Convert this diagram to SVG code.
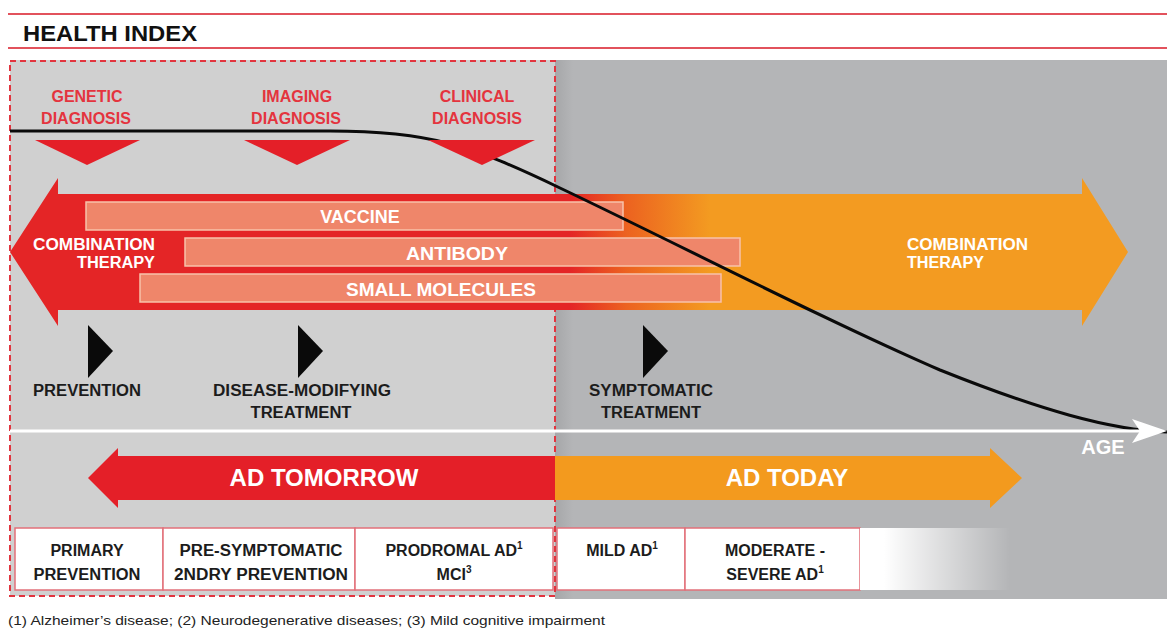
<svg xmlns="http://www.w3.org/2000/svg" width="1167" height="629" viewBox="0 0 1167 629">
<defs>
<style>
.t{font-family:"Liberation Sans",Arial,sans-serif;font-weight:bold;text-anchor:middle}
.red{fill:#e4343e;font-size:16px}
.wb{fill:#ffffff;font-size:18px}
.ct{fill:#ffffff;font-size:16px}
.dk{fill:#1c1c1c;font-size:16px}
.big{fill:#ffffff;font-size:24px}
.bx{fill:#ffffff;stroke:#e2707a;stroke-width:1.5}
.bar{fill:#ef866a;stroke:#f8c2aa;stroke-width:1.5}
.sup{font-size:10px}
</style>
<linearGradient id="gArrow" gradientUnits="userSpaceOnUse" x1="570" y1="0" x2="710" y2="0">
<stop offset="0" stop-color="#e42526"/>
<stop offset="0.4" stop-color="#ec6220"/>
<stop offset="1" stop-color="#f39b21"/>
</linearGradient>
<linearGradient id="gEdge" x1="0" y1="0" x2="1" y2="0">
<stop offset="0" stop-color="#a6a7a9"/>
<stop offset="1" stop-color="#b4b5b7"/>
</linearGradient>
<linearGradient id="gFade" gradientUnits="userSpaceOnUse" x1="862" y1="0" x2="1010" y2="0">
<stop offset="0" stop-color="#ffffff" stop-opacity="1"/>
<stop offset="0.15" stop-color="#ffffff" stop-opacity="1"/>
<stop offset="1" stop-color="#ffffff" stop-opacity="0"/>
</linearGradient>
</defs>

<rect x="0" y="0" width="1167" height="629" fill="#ffffff"/>

<g id="header">
<line x1="8" y1="14" x2="1167" y2="14" stroke="#e2525c" stroke-width="2"/>
<line x1="8" y1="48" x2="1167" y2="48" stroke="#e2525c" stroke-width="2"/>
<text x="23" y="41" font-family="Liberation Sans,Arial,sans-serif" font-weight="bold" font-size="22" fill="#111111" textLength="174" lengthAdjust="spacingAndGlyphs">HEALTH INDEX</text>
</g>

<g id="background">
<rect x="10" y="60" width="545" height="536" fill="#d0d0d0"/>
<rect x="555" y="60" width="612" height="539" fill="#b4b5b7"/>
<rect x="555" y="60" width="18" height="539" fill="url(#gEdge)"/>
</g>

<rect id="tomorrow-frame" x="10" y="61" width="545" height="535" fill="none" stroke="#e2343e" stroke-width="2" stroke-dasharray="6 4"/>

<g id="therapy-arrow">
<polygon points="10,252 58,178 58,194 1082,194 1082,178 1128,252 1082,326 1082,310 58,310 58,326" fill="url(#gArrow)"/>
<text class="t ct" x="155" y="250" style="text-anchor:end" textLength="122" lengthAdjust="spacingAndGlyphs">COMBINATION</text>
<text class="t ct" x="155" y="268" style="text-anchor:end" textLength="78" lengthAdjust="spacingAndGlyphs">THERAPY</text>
<text class="t ct" x="907" y="250" style="text-anchor:start" textLength="121" lengthAdjust="spacingAndGlyphs">COMBINATION</text>
<text class="t ct" x="907" y="268" style="text-anchor:start" textLength="77" lengthAdjust="spacingAndGlyphs">THERAPY</text>
</g>

<g id="vaccine">
<rect class="bar" x="86" y="202" width="537" height="28"/>
<text class="t wb" x="360" y="223">VACCINE</text>
</g>
<g id="antibody">
<rect class="bar" x="185" y="238" width="555" height="28"/>
<text class="t wb" x="457" y="260" textLength="102" lengthAdjust="spacingAndGlyphs">ANTIBODY</text>
</g>
<g id="small-molecules">
<rect class="bar" x="140" y="274" width="581" height="28"/>
<text class="t wb" x="441" y="296" textLength="190" lengthAdjust="spacingAndGlyphs">SMALL MOLECULES</text>
</g>

<g id="connectors">
<path d="M10,131 L330,131 C430,131 470,145 560,188 C680,245 820,318 940,370 C1040,410 1110,430 1167,432" fill="none" stroke="#0a0a0a" stroke-width="3"/>
<line x1="10" y1="431" x2="1140" y2="431" stroke="#ffffff" stroke-width="3"/>
<polygon points="1132,419 1167,431 1132,443 1140,431" fill="#ffffff"/>
</g>

<g id="age">
<text class="t" x="1103" y="454" font-size="20" fill="#ffffff">AGE</text>
</g>

<g id="genetic-diagnosis">
<text class="t red" x="87" y="102">GENETIC</text>
<text class="t red" x="86" y="124">DIAGNOSIS</text>
<polygon points="35,140 140,140 87,165" fill="#e41f28"/>
</g>
<g id="imaging-diagnosis">
<text class="t red" x="297" y="102">IMAGING</text>
<text class="t red" x="296" y="124">DIAGNOSIS</text>
<polygon points="244,140 350,140 297,165" fill="#e41f28"/>
</g>
<g id="clinical-diagnosis">
<text class="t red" x="477" y="102">CLINICAL</text>
<text class="t red" x="477" y="124">DIAGNOSIS</text>
<polygon points="428,140 535,140 482,165" fill="#e41f28"/>
</g>

<g id="prevention">
<polygon points="88,325 113,351 88,378" fill="#0a0a0a"/>
<text class="t dk" x="87" y="396" textLength="108" lengthAdjust="spacingAndGlyphs">PREVENTION</text>
</g>
<g id="disease-modifying">
<polygon points="298,325 323,351 298,378" fill="#0a0a0a"/>
<text class="t dk" x="302" y="396" textLength="178" lengthAdjust="spacingAndGlyphs">DISEASE-MODIFYING</text>
<text class="t dk" x="301" y="418" textLength="101" lengthAdjust="spacingAndGlyphs">TREATMENT</text>
</g>
<g id="symptomatic">
<polygon points="643,325 668,351 643,378" fill="#0a0a0a"/>
<text class="t dk" x="651" y="396" textLength="124" lengthAdjust="spacingAndGlyphs">SYMPTOMATIC</text>
<text class="t dk" x="651" y="418" textLength="100" lengthAdjust="spacingAndGlyphs">TREATMENT</text>
</g>

<g id="ad-tomorrow">
<polygon points="88,478 118,448 118,456 555,456 555,500 118,500 118,508" fill="#e41f28"/>
<text class="t big" x="324" y="486">AD TOMORROW</text>
</g>
<g id="ad-today">
<polygon points="555,456 990,456 990,448 1022,478 990,508 990,500 555,500" fill="#f39a1e"/>
<text class="t big" x="787" y="486">AD TODAY</text>
</g>

<g id="stage-boxes">
<g id="primary-prevention">
<rect class="bx" x="15" y="528" width="148" height="62"/>
<text class="t dk" x="87" y="556">PRIMARY</text>
<text class="t dk" x="87" y="580" textLength="107" lengthAdjust="spacingAndGlyphs">PREVENTION</text>
</g>
<g id="pre-symptomatic">
<rect class="bx" x="163" y="528" width="192" height="62"/>
<text class="t dk" x="261" y="556" textLength="163" lengthAdjust="spacingAndGlyphs">PRE-SYMPTOMATIC</text>
<text class="t dk" x="261" y="580" textLength="174" lengthAdjust="spacingAndGlyphs">2NDRY PREVENTION</text>
</g>
<g id="prodromal">
<rect class="bx" x="355" y="528" width="198" height="62"/>
<text class="t dk" x="454" y="556">PRODROMAL AD<tspan class="sup" dy="-7">1</tspan></text>
<text class="t dk" x="454" y="580">MCI<tspan class="sup" dy="-7">3</tspan></text>
</g>
<g id="mild-ad">
<rect class="bx" x="557" y="528" width="128" height="62"/>
<text class="t dk" x="622" y="556">MILD AD<tspan class="sup" dy="-7">1</tspan></text>
</g>
<g id="moderate-severe">
<rect class="bx" x="685" y="528" width="175" height="62"/>
<text class="t dk" x="775" y="556">MODERATE -</text>
<text class="t dk" x="775" y="580">SEVERE AD<tspan class="sup" dy="-7">1</tspan></text>
</g>
<g id="fade-box">
<rect x="860" y="528" width="160" height="62" fill="url(#gFade)"/>
</g>
</g>

<g id="footnote">
<text x="8" y="625" font-family="Liberation Sans,Arial,sans-serif" font-size="13.5" fill="#222222" textLength="597" lengthAdjust="spacingAndGlyphs">(1) Alzheimer’s disease; (2) Neurodegenerative diseases; (3) Mild cognitive impairment</text>
</g>
</svg>
